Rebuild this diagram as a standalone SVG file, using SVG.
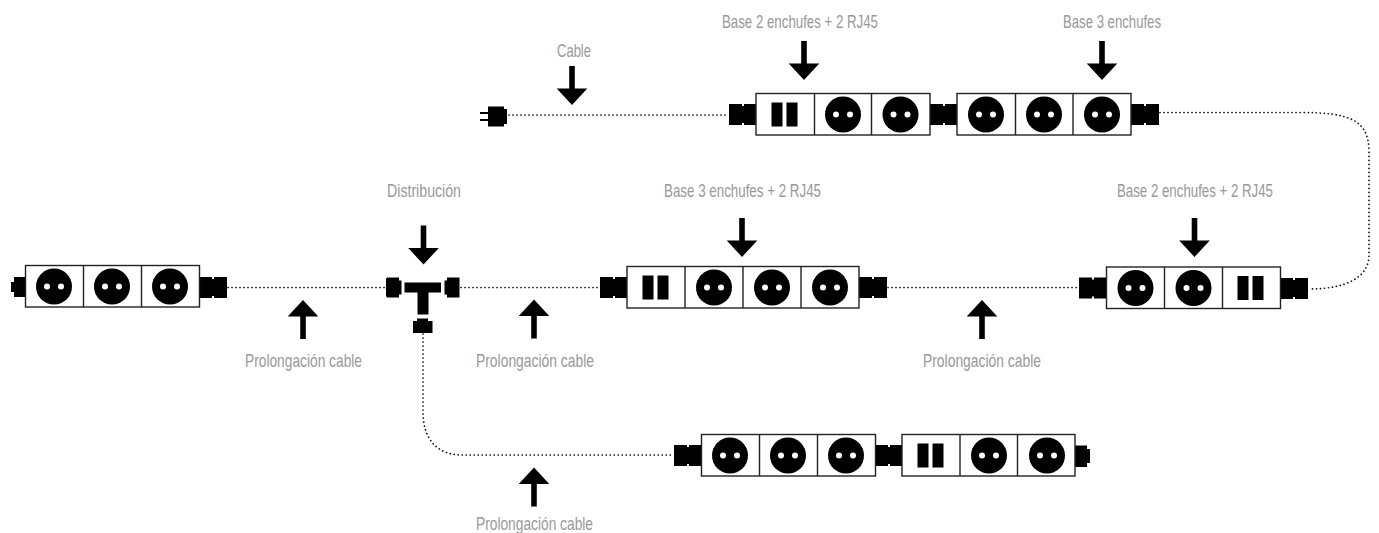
<svg xmlns="http://www.w3.org/2000/svg" width="1379" height="533" viewBox="0 0 1379 533">
<style>
text{font-family:"Liberation Sans",Arial,sans-serif;font-size:19px;fill:#999}
.wire{fill:none;stroke:#111;stroke-width:1.7;stroke-linecap:round;stroke-dasharray:0.1 3.9}
.box{fill:#fff;stroke:#222;stroke-width:1.4}
.div{stroke:#222;stroke-width:1.4}
</style>
<defs>
<g id="socket"><circle cx="0" cy="0" r="18"/><circle cx="-7" cy="0" r="3" fill="#fff"/><circle cx="7" cy="0" r="3" fill="#fff"/></g>
<g id="rj"><rect x="-13.5" y="-12" width="11" height="24"/><rect x="1.5" y="-12" width="11" height="24"/></g>
<path id="coupler" d="M0 0H13V2H15V0H28V21H15V19H13V21H0Z"/>
<path id="down" d="M-2.800 0H2.800V22.500H15.300L0 39L-15.300 22.500H-2.800Z"/>
<path id="up" d="M-2.800 0H2.800V-22.500H15.300L0 -39L-15.300 -22.500H-2.800Z"/>
</defs>
<g id="connectors">
<path class="wire" d="M509 115H729"/>
<path class="wire" d="M1160 112.500H1300C1350 112.500 1368 120 1369 150V255C1369 278 1345 289 1309 289"/>
<path class="wire" d="M228 287.500H386"/>
<path class="wire" d="M461 287.500H600"/>
<path class="wire" d="M888 287.500H1079"/>
<path class="wire" d="M423 334V412C423 440 438 455 462 455H674"/>
</g>
<g id="strip-top-1">
<use href="#coupler" x="729" y="104"/><use href="#coupler" x="930" y="104"/>
<rect class="box" x="756" y="93.500" width="174" height="41.500"/><path class="div" d="M814.500 93.500V135M871.500 93.500V135"/>
<use href="#rj" x="785" y="114.500"/><use href="#socket" x="843" y="114.500"/><use href="#socket" x="900.500" y="114.500"/>
</g>
<g id="strip-top-2">
<use href="#coupler" x="1131" y="104"/>
<rect class="box" x="957" y="93.500" width="174" height="41.500"/><path class="div" d="M1015.500 93.500V135M1073 93.500V135"/>
<use href="#socket" x="986" y="114.500"/><use href="#socket" x="1044" y="114.500"/><use href="#socket" x="1102" y="114.500"/>
</g>
<g id="plug">
<path d="M488 106.500H504V109H507V124H504V126.500H488V121H480V119H488V114H480V112H488Z"/>
</g>
<g id="strip-left">
<path d="M25 277V297H14V292H11V282H14V277Z"/>
<use href="#coupler" x="199" y="277"/>
<rect class="box" x="25.500" y="265.500" width="174" height="41.500"/><path class="div" d="M83.500 265.500V307M141.500 265.500V307"/>
<use href="#socket" x="54" y="286.500"/><use href="#socket" x="112" y="286.500"/><use href="#socket" x="170" y="286.500"/>
</g>
<g id="distribution">
<path d="M404.500 282.500H441V292.500H428.500V314.500H417.500V292.500H404.500Z"/>
<path d="M387 277.500H399V280.500H401.500V294.500H399V297.500H387L386 296V279Z"/>
<path d="M447 277.500H459.500V297.500H447V294.500H444.500V280.500H447Z"/>
<path d="M417 318.500H428V321H432.500V333H413V321H417Z"/>
</g>
<g id="strip-mid-1">
<use href="#coupler" x="600" y="277"/><use href="#coupler" x="859" y="277"/>
<rect class="box" x="627" y="266.500" width="232" height="41.500"/><path class="div" d="M685 266.500V308M743 266.500V308M801 266.500V308"/>
<use href="#rj" x="656" y="287.500"/><use href="#socket" x="714" y="287.500"/><use href="#socket" x="772" y="287.500"/><use href="#socket" x="830" y="287.500"/>
</g>
<g id="strip-mid-2">
<use href="#coupler" x="1079" y="277.500"/><use href="#coupler" x="1280" y="278"/>
<rect class="box" x="1106.500" y="267" width="174" height="41.500"/><path class="div" d="M1164.500 267V308.500M1222.500 267V308.500"/>
<use href="#socket" x="1135.500" y="288"/><use href="#socket" x="1193.500" y="288"/><use href="#rj" x="1251" y="288"/>
</g>
<g id="strip-bottom-1">
<use href="#coupler" x="674" y="445"/><use href="#coupler" x="875" y="445"/>
<rect class="box" x="701.500" y="434.500" width="174" height="41.500"/><path class="div" d="M759.500 434.500V476M817.500 434.500V476"/>
<use href="#socket" x="730" y="455.500"/><use href="#socket" x="788" y="455.500"/><use href="#socket" x="846" y="455.500"/>
</g>
<g id="strip-bottom-2">
<path d="M1075 445.500H1087V449H1090V463H1087V467H1075Z"/>
<rect class="box" x="902" y="434.500" width="173" height="41.500"/><path class="div" d="M960 434.500V476M1017.500 434.500V476"/>
<use href="#rj" x="931" y="455.500"/><use href="#socket" x="989" y="455.500"/><use href="#socket" x="1047" y="455.500"/>
</g>
<g id="label-arrows">
<use href="#down" x="572" y="66"/><use href="#down" x="804" y="41"/><use href="#down" x="1102" y="41"/>
<use href="#down" x="423.500" y="225.500"/><use href="#down" x="742" y="218"/><use href="#down" x="1194.500" y="218"/>
<use href="#up" x="303" y="339"/><use href="#up" x="534" y="338.500"/><use href="#up" x="982" y="339"/><use href="#up" x="534" y="506.500"/>
</g>
<g id="labels">
<text x="557" y="57" textLength="34" lengthAdjust="spacingAndGlyphs">Cable</text>
<text x="722" y="27.500" textLength="156" lengthAdjust="spacingAndGlyphs">Base 2 enchufes + 2 RJ45</text>
<text x="1063" y="27.500" textLength="98" lengthAdjust="spacingAndGlyphs">Base 3 enchufes</text>
<text x="387" y="197" textLength="74" lengthAdjust="spacingAndGlyphs">Distribución</text>
<text x="664" y="197" textLength="157" lengthAdjust="spacingAndGlyphs">Base 3 enchufes + 2 RJ45</text>
<text x="1117" y="197" textLength="156" lengthAdjust="spacingAndGlyphs">Base 2 enchufes + 2 RJ45</text>
<text x="245" y="367" textLength="117" lengthAdjust="spacingAndGlyphs">Prolongación cable</text>
<text x="476" y="367" textLength="118" lengthAdjust="spacingAndGlyphs">Prolongación cable</text>
<text x="923" y="367" textLength="118" lengthAdjust="spacingAndGlyphs">Prolongación cable</text>
<text x="476" y="530" textLength="117" lengthAdjust="spacingAndGlyphs">Prolongación cable</text>
</g>
</svg>
